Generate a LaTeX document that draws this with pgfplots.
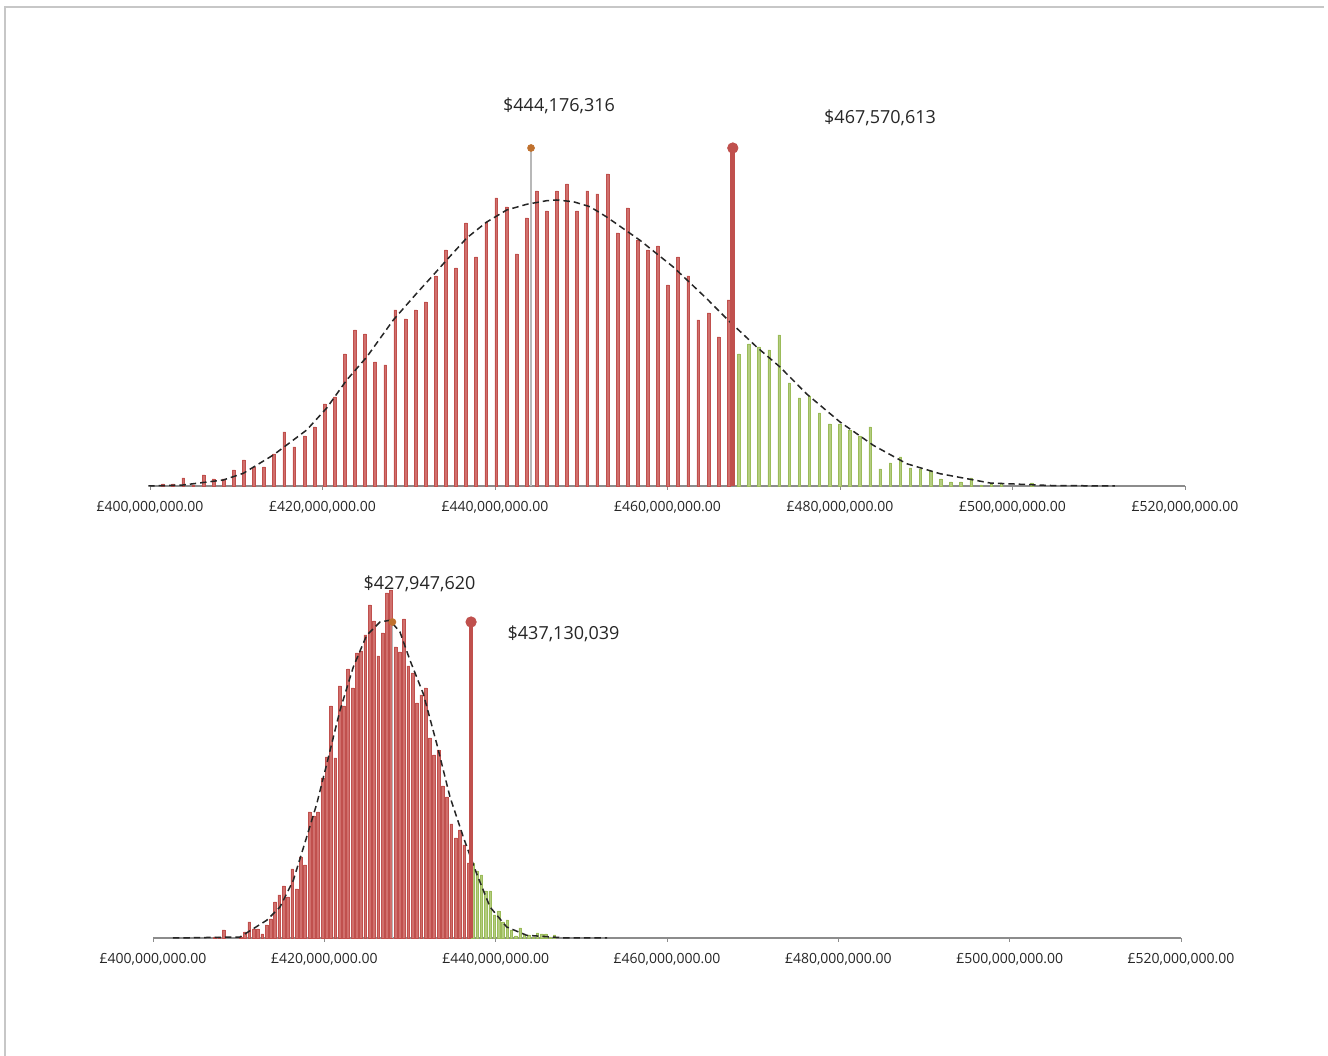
\documentclass[border=0pt]{standalone}
\usepackage{fontspec}
\setmainfont{Open Sans}
\usepackage{pgfplots}
\usepackage{pgfplotstable}
\pgfplotsset{compat=1.18}
\definecolor{barred}{HTML}{C0504D}
\definecolor{barredfill}{HTML}{D0706D}
\definecolor{bargreen}{HTML}{9BBB59}
\definecolor{bargreenfill}{HTML}{B4CD80}
\definecolor{dotorange}{HTML}{C0712E}
\definecolor{axgray}{HTML}{8C8C8C}
\definecolor{txt}{HTML}{262626}

% ---------- top chart data (x in millions, y = bin count scale) ----------
\pgfplotstableread{
x y
401.507 2
402.678 2
403.849 8
405.020 1
406.191 11
407.362 7
408.533 7
409.704 16
410.875 26
412.046 19
413.217 19
414.388 32
415.559 54
416.730 39
417.901 50
419.072 59
420.243 82
421.414 89
422.585 132
423.756 156
424.927 152
426.098 124
427.269 121
428.440 176
429.611 167
430.782 176
431.953 184
433.124 210
434.295 236
435.466 218
436.637 263
437.808 229
438.979 264
440.150 288
441.321 279
442.492 232
443.663 268
444.834 295
446.005 275
447.176 295
448.347 302
449.518 275
450.689 295
451.860 292
453.031 312
454.202 253
455.373 278
456.544 246
457.715 236
458.886 240
460.057 201
461.228 229
462.399 210
463.570 166
464.741 173
465.912 149
467.083 186
}\topred
\pgfplotstableread{
x y
468.254 132
469.425 142
470.596 139
471.767 136
472.938 151
474.109 103
475.280 88
476.451 90
477.622 73
478.793 62
479.964 62
481.135 56
482.306 50
483.477 59
484.648 17
485.819 23
486.990 29
488.161 18
489.332 17
490.503 15
491.674 7
492.845 4
494.016 4
495.187 8
496.358 1
497.529 2
498.700 3
502.213 3
}\topgreen
\pgfplotstableread{
x y
399.80 0
403.86 1
408.50 6
410.82 12.7
414.30 31
418.17 56
420.49 78
422.81 106
425.13 129
428.21 166
430.92 192.7
432.85 211
434.40 226
436.72 248
439.04 264
441.36 276
443.68 281.7
446.00 285.3
447.15 286
449.08 284.3
451.01 279.3
452.95 269
456.81 245.7
460.67 219
464.55 187.3
467.25 164
470.34 139
473.04 119
476.14 92
480.00 64
483.86 40.7
487.73 22.3
491.59 12.3
497.39 3
504.35 0.5
511.88 0
}\topcurve

% ---------- bottom chart data ----------
\pgfplotstableread{
x y
407.226 1
407.728 1
408.229 8
410.237 1
410.739 6
411.241 16
411.743 9
412.245 9
412.747 4
413.249 13
413.751 19
414.253 36
414.754 43
415.256 52
415.758 41
416.260 69
416.762 49
417.264 81
417.766 73
418.268 126
418.770 122
419.272 126
419.774 160
420.276 181
420.778 232
421.280 180
421.782 252
422.283 232
422.785 269
423.287 250
423.789 285
424.291 287
424.793 303
425.295 333
425.797 317
426.299 282
426.801 305
427.303 345
427.805 348
428.307 291
428.809 286
429.310 319
429.812 272
430.314 265
430.816 235
431.318 243
431.820 250
432.322 200
432.824 183
433.326 188
433.828 152
434.330 141
434.832 114
435.334 100
435.836 108
436.338 93
436.839 75
}\botred
\pgfplotstableread{
x y
437.341 75
437.843 67
438.345 63
438.847 47
439.349 47
439.851 23
440.353 27
440.855 16
441.357 18
441.859 8
442.361 2
442.863 10
443.365 4
443.866 3
444.368 1
444.870 5
445.372 4
445.874 4
446.376 1
446.878 3
}\botgreen
\pgfplotstableread{
x y
402.33 0
410.16 1
413.27 17.7
414.82 31
416.38 57.7
417.94 101
419.11 134
420.28 174
421.83 227.7
423.38 271
424.94 302.7
426.50 316
427.66 317.7
428.83 306
430.00 277.7
431.55 244.3
433.12 194.3
434.67 141
436.22 101
437.78 64.3
439.34 31
441.29 11
443.62 2.7
448.29 0
453.00 0
}\botcurve

\pgfplotsset{
  hist/.style={
    scale only axis, xmin=400, xmax=520, ymin=0, ymax=340,
    height=170pt, clip=false,
    axis x line=bottom, axis y line=none,
    axis line style={draw=axgray, line width=0.6pt, -},
    xtick={400,420,440,460,480,500,520},
    xticklabels={{£400,000,000.00},{£420,000,000.00},{£440,000,000.00},{£460,000,000.00},{£480,000,000.00},{£500,000,000.00},{£520,000,000.00}},
    xticklabel style={font=\fontsize{7}{8}\selectfont, text=txt, yshift=-2pt},
    tick align=outside, major tick length=2pt,
    xtick style={draw=axgray, line width=0.5pt},
    ytick=\empty,
  },
  redbar/.style={ybar, bar width=1.4pt, bar shift=0pt, draw=barred, fill=barredfill, line width=0.3pt},
  greenbar/.style={ybar, bar width=1.2pt, bar shift=0pt, draw=bargreen, fill=bargreenfill, line width=0.3pt},
  fitcurve/.style={black!85, line width=0.75pt, dash pattern=on 3.2pt off 2pt, no marks},
}
\tikzset{lbl/.style={font=\fontsize{9}{11}\selectfont, text=txt}}

\begin{document}
\begin{tikzpicture}
\useasboundingbox (0,0) rectangle (664pt,527.5pt);
\fill[white] (0,0) rectangle (664pt,527.5pt);
\draw[black!22, line width=0.6pt] (2.5pt,-5pt) -- (2.5pt,524pt) -- (662pt,524pt);

% ---------- top chart ----------
\begin{axis}[hist, width=517.5pt, at={(75pt,284.5pt)}, anchor=south west]
\addplot[redbar] table[x=x,y=y] {\topred};
\addplot[greenbar] table[x=x,y=y] {\topgreen};
\addplot[ycomb, color=black!28, line width=0.9pt] coordinates {(444.176316,338)};
\addplot[fitcurve] table[x=x,y=y] {\topcurve};
\addplot[ycomb, color=barred, line width=2.5pt, mark=*, mark size=2.6pt,
  mark options={line width=0.4pt, draw=barred, fill=barred}] coordinates {(467.570613,338)};
\addplot[only marks, mark=*, mark size=1.7pt, color=dotorange] coordinates {(444.176316,338)};
\node[lbl] at (axis cs:447.42,380) {\$444,176,316};
\node[lbl] at (axis cs:484.64,368) {\$467,570,613};
\end{axis}

% ---------- bottom chart ----------
\begin{axis}[hist, width=514pt, at={(76.5pt,58.5pt)}, anchor=south west]
\addplot[redbar] table[x=x,y=y] {\botred};
\addplot[greenbar] table[x=x,y=y] {\botgreen};
\addplot[ycomb, color=black!28, line width=0.9pt] coordinates {(427.947620,316)};
\addplot[fitcurve] table[x=x,y=y] {\botcurve};
\addplot[ycomb, color=barred, line width=2pt, mark=*, mark size=2.6pt,
  mark options={line width=0.4pt, draw=barred, fill=barred}] coordinates {(437.130039,316)};
\addplot[only marks, mark=*, mark size=1.7pt, color=dotorange] coordinates {(427.947620,316)};
\node[lbl] at (axis cs:431.11,354) {\$427,947,620};
\node[lbl] at (axis cs:447.92,304) {\$437,130,039};
\end{axis}
\end{tikzpicture}
\end{document}
